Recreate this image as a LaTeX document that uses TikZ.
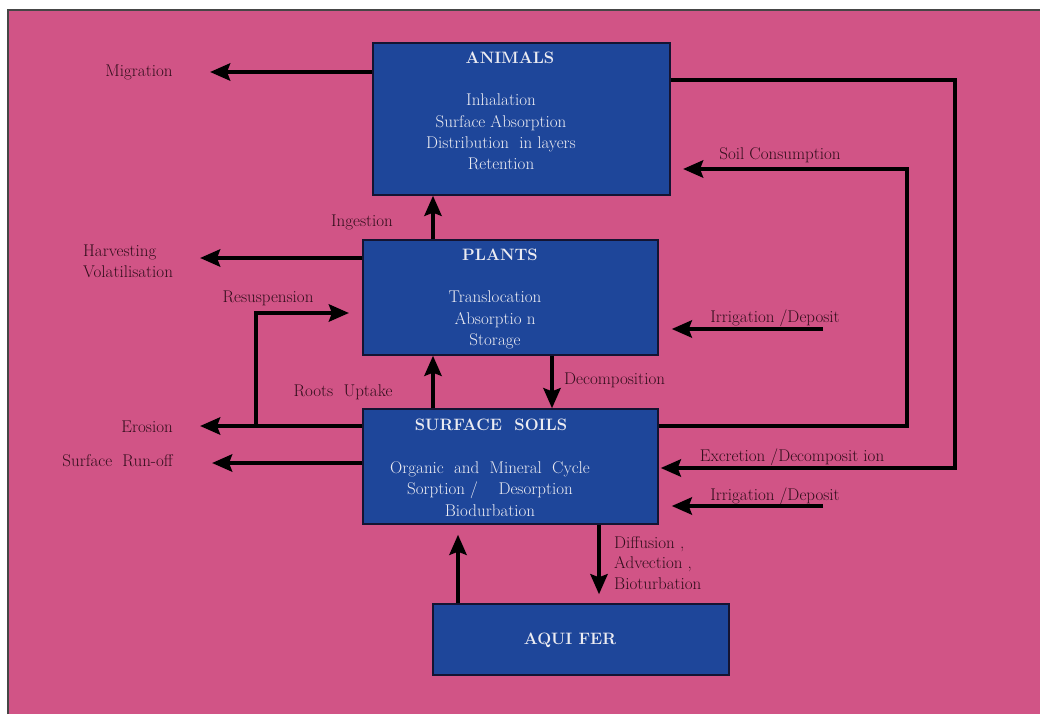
\documentclass[tikz,border=0pt]{standalone}
\usetikzlibrary{arrows.meta}
\definecolor{bgpink}{RGB}{209,84,134}
\definecolor{boxblue}{RGB}{30,70,154}
\definecolor{boxedge}{RGB}{20,20,50}
\definecolor{boxtext}{RGB}{236,236,242}
\definecolor{labeltext}{RGB}{50,14,28}
\definecolor{frameline}{RGB}{70,70,70}
\begin{document}
\begin{tikzpicture}[x=1pt,y=-1pt,
  box/.style={draw=boxedge, line width=1.4pt, fill=boxblue, inner sep=0pt},
  title/.style={text=boxtext, font=\fontsize{16.5}{21}\selectfont\bfseries},
  body/.style={text=boxtext, align=center, font=\fontsize{17}{21.2}\selectfont},
  lab/.style={text=labeltext, font=\fontsize{17}{20.8}\selectfont, inner sep=0pt},
  flow/.style={line width=4.5pt, draw=black,
    -{Stealth[length=20pt,width=17pt,inset=3pt]}}]
\useasboundingbox (0,0) rectangle (1040,714);
% page and coloured panel
\fill[white] (0,0) rectangle (1040,714);
\fill[bgpink] (8,10) rectangle (1040,714);
\draw[frameline, line width=1.2pt] (8,714) -- (8,10) -- (1040,10);

% compartments
\node[box, minimum width=297pt, minimum height=152pt] (animals) at (521.5,119) {};
\node[title] (animalsT) at (510,58) {ANIMALS};
\node[body] (animalsB) at (501,132) {Inhalation\\Surface Absorption\\Distribution\ \ in layers\\Retention};

\node[box, minimum width=295pt, minimum height=115pt] (plants) at (510.5,297.5) {};
\node[title] (plantsT) at (500,255) {PLANTS};
\node[body] (plantsB) at (495,320) {Translocation\\Absorptio n\\Storage};

\node[box, minimum width=295pt, minimum height=115pt] (soils) at (510.5,466.5) {};
\node[title] (soilsT) at (491,425) {SURFACE\ \ SOILS};
\node[body] (soilsB) at (490,489) {Organic\ \ and\ \ Mineral\ \ Cycle\\Sorption /\ \ \ \ Desorption\\Biodurbation};

\node[box, minimum width=296pt, minimum height=71pt] (aquifer) at (581,639.5) {};
\node[title] (aquiferT) at (570,640) {AQUI FER};

% reference points for the connectors
\coordinate (migE) at (210,72);
\coordinate (upX) at (433,0);
\coordinate (harvE) at (200,258);
\coordinate (resA) at (256,426);
\coordinate (resB) at (349,313);
\coordinate (erosE) at (200,426);
\coordinate (runE) at (212,463);
\coordinate (decX) at (552,0);
\coordinate (scA) at (907,426);
\coordinate (scB) at (683,169);
\coordinate (exA) at (955,80);
\coordinate (exB) at (955,468);
\coordinate (irrP) at (823,329);
\coordinate (irrS) at (823,506);
\coordinate (aqX) at (458,0);
\coordinate (difX) at (599,0);

% flows
\draw[flow] (animals.west |- migE) -- (migE);
\draw[flow] (plants.north -| upX) -- (animals.south -| upX);
\draw[flow] (plants.west |- harvE) -- (harvE);
\draw[flow] (resA) |- (resB);
\draw[flow] (soils.west |- erosE) -- (erosE);
\draw[flow] (soils.west |- runE) -- (runE);
\draw[flow] (soils.north -| upX) -- (plants.south -| upX);
\draw[flow] (plants.south -| decX) -- (soils.north -| decX);
\draw[flow] (soils.east |- scA) -- (scA) |- (scB);
\draw[flow] (animals.east |- exA) -- (exA) -- (exB) -- ([xshift=2pt]soils.east |- exB);
\draw[flow] (irrP) -- ([xshift=13pt]plants.east |- irrP);
\draw[flow] (irrS) -- ([xshift=13pt]soils.east |- irrS);
\draw[flow] (aquifer.north -| aqX) -- ([yshift=-10pt]soils.south -| aqX);
\draw[flow] (soils.south -| difX) -- ([yshift=9pt]aquifer.north -| difX);

% flow labels
\node[lab] (migL) at (139,72) {Migration};
\node[lab] (ingL) at (362,222) {Ingestion};
\node[lab, anchor=west, align=left] (harvL) at (83,261) {Harvesting\\Volatilisation};
\node[lab] (resL) at (268,298) {Resuspension};
\node[lab, anchor=east] (erosL) at (173,427) {Erosion};
\node[lab, anchor=east] (runL) at (173,461) {Surface\ \ Run-off};
\node[lab] (rootL) at (343,392) {Roots\ \ Uptake};
\node[lab, anchor=west] (decL) at (564,380) {Decomposition};
\node[lab] (scL) at (780,155) {Soil Consumption};
\node[lab] (exL) at (792,457) {Excretion /Decomposit ion};
\node[lab] (irrPL) at (775,318) {Irrigation /Deposit};
\node[lab] (irrSL) at (775,496) {Irrigation /Deposit};
\node[lab, anchor=west, align=left] (difL) at (614,563) {Diffusion ,\\Advection ,\\Bioturbation};
\end{tikzpicture}
\end{document}
